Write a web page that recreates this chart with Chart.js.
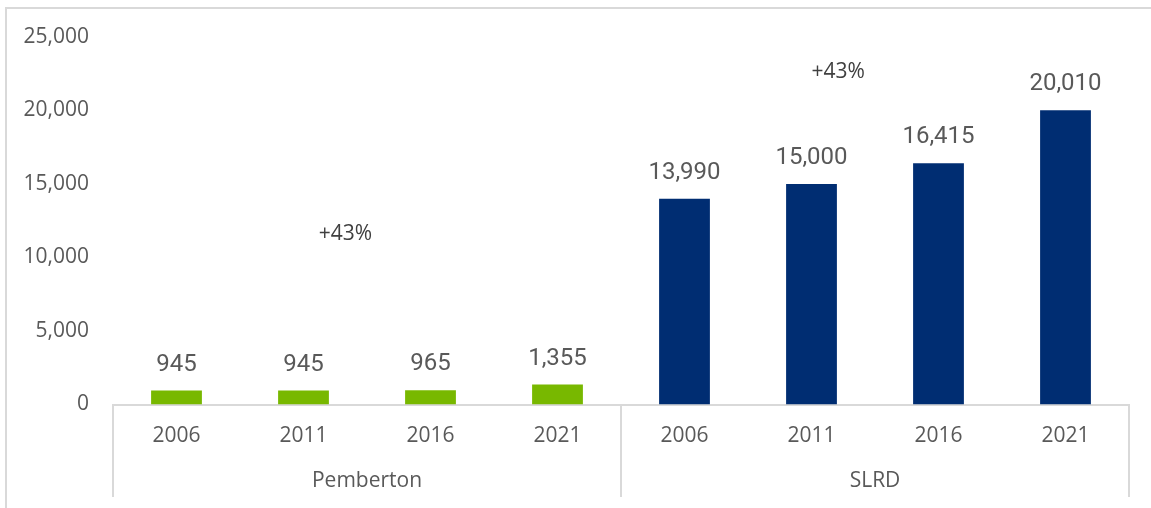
<!DOCTYPE HTML>
<html>
<head>
  <meta charset="utf-8">
  <title>Pemberton vs SLRD</title>
  <script src="https://cdn.jsdelivr.net/npm/chart.js"></script>
  <style>
    html, body { margin: 0; padding: 0; background: #fff; }
    .frame { position: absolute; left: 5px; top: 7px; width: 1300px; height: 700px;
             border-top: 2px solid #d9d9d9; border-left: 2px solid #d9d9d9; }
    .chart-container { position: absolute; left: 0; top: 0; width: 1151px; height: 508px; }
  </style>
</head>
<body>
  <div class="frame"></div>
  <div class="chart-container">
    <canvas id="popChart"></canvas>
  </div>

  <script type="text/javascript">
    // data
    var years     = ["2006", "2011", "2016", "2021", "2006", "2011", "2016", "2021"];
    var groups    = ["Pemberton", "SLRD"];
    var groupSize = 4;
    var values    = [945, 945, 965, 1355, 13990, 15000, 16415, 20010];
    var yMax      = 25000;
    var yStep     = 5000;
    var notes     = ["+43%", "+43%"];
    var noteCat   = [1.33, 5.21];      // category position of each note
    var noteVal   = [11600, 22650];    // value position of each note

    var chartColors = { green: '#78b800', navy: '#002d72', text: '#595959', note: '#404040', line: '#d9d9d9' };

    var barColors = [];
    for (let i = 0; i < values.length; i++) {
      barColors[i] = (i < groupSize) ? chartColors.green : chartColors.navy;
    }

    function fmt(v) { return v.toLocaleString('en-US'); }

    // draws group labels, separators, value labels and the +43% notes
    var extras = {
      id: 'extras',
      afterDraw: function (chart) {
        var ctx = chart.ctx;
        var xs = chart.scales.x;
        var ys = chart.scales.y;
        var area = chart.chartArea;
        ctx.save();

        ctx.strokeStyle = chartColors.line;
        ctx.lineWidth = 2;
        for (let g = 0; g <= groups.length; g++) {
          var px = xs.getPixelForDecimal(g * groupSize / years.length);
          ctx.beginPath();
          ctx.moveTo(px, area.bottom);
          ctx.lineTo(px, 497);
          ctx.stroke();
        }

        ctx.fillStyle = chartColors.text;
        ctx.font = '21px "Open Sans"';
        ctx.textAlign = 'center';
        ctx.textBaseline = 'middle';
        for (let g = 0; g < groups.length; g++) {
          var cx = xs.getPixelForDecimal((g + 0.5) * groupSize / years.length);
          ctx.fillText(groups[g], cx, 481);
        }

        ctx.font = '24px Roboto';
        var meta = chart.getDatasetMeta(0);
        meta.data.forEach(function (bar, i) {
          ctx.fillText(fmt(values[i]), bar.x, bar.y - 26);
        });

        ctx.fillStyle = chartColors.note;
        ctx.font = '21px "Open Sans"';
        for (let n = 0; n < notes.length; n++) {
          ctx.fillText(notes[n], xs.getPixelForValue(noteCat[n]), ys.getPixelForValue(noteVal[n]));
        }
        ctx.restore();
      }
    };

    var ctx_pop = document.getElementById('popChart');
    var popChart = new Chart(ctx_pop, {
      type: 'bar',
      data: {
        labels: years,
        datasets: [{
          data: values,
          backgroundColor: barColors,
          categoryPercentage: 1.0,
          barPercentage: 0.4,
        }],
      },
      options: {
        responsive: true,
        maintainAspectRatio: false,
        animation: false,
        layout: { padding: { top: 37, right: 22, left: 0, bottom: 0 } },
        plugins: {
          legend: { display: false },
          tooltip: { enabled: false },
        },
        scales: {
          x: {
            grid: { display: false, drawTicks: false },
            border: { display: true, color: chartColors.line, width: 2 },
            ticks: { color: chartColors.text, font: { family: 'Open Sans', size: 21 }, padding: 19, maxRotation: 0 },
            afterFit: function (scale) { scale.height = 103.5; },
          },
          y: {
            min: 0,
            max: yMax,
            grid: { display: false, drawTicks: false },
            border: { display: false },
            ticks: {
              stepSize: yStep,
              color: chartColors.text,
              font: { family: 'Open Sans', size: 21 },
              padding: 24,
              callback: function (v) { return fmt(v); },
            },
            afterFit: function (scale) { scale.width = 113; },
          },
        },
      },
      plugins: [extras],
    });
  </script>
</body>
</html>
